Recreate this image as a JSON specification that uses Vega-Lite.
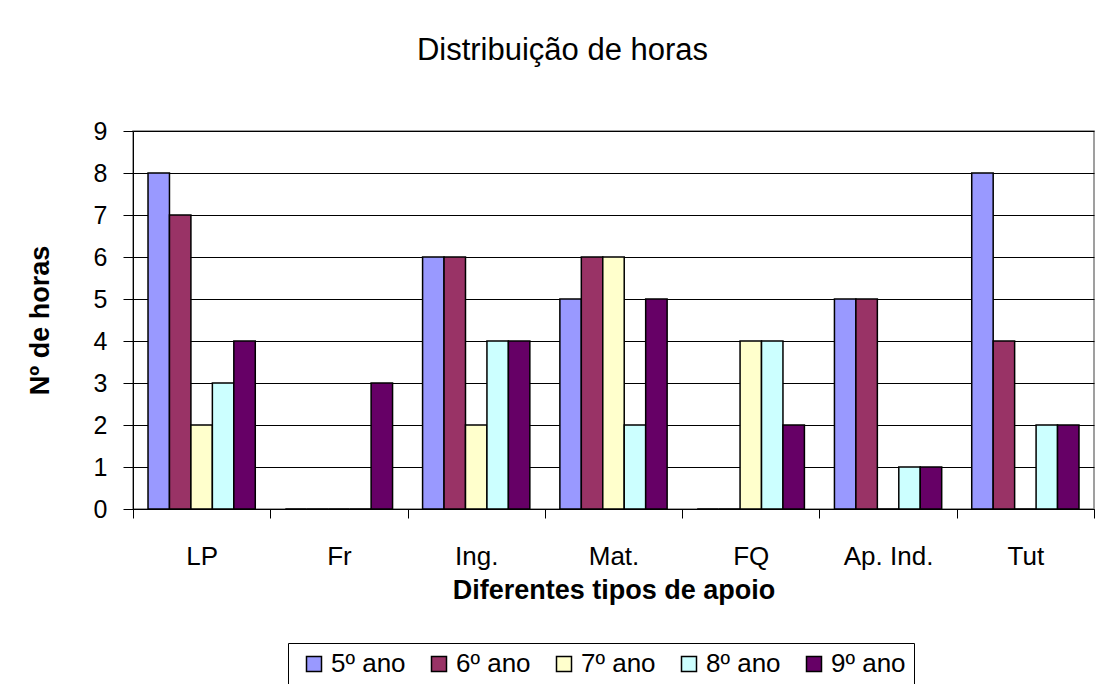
{
  "$schema": "https://vega.github.io/schema/vega-lite/v6.json",
  "width": 961,
  "height": 378,
  "autosize": {"type": "none"},
  "padding": {"left": 133, "top": 131, "right": 6, "bottom": 175},
  "background": "white",
  "title": {
    "text": "Distribuição de horas",
    "font": "Liberation Sans",
    "fontSize": 31,
    "fontWeight": "normal",
    "color": "black",
    "offset": 52,
    "dx": -51
  },
  "data": {
    "values": [
      {"tipo": "LP", "ano": "5º ano", "horas": 8},
      {"tipo": "LP", "ano": "6º ano", "horas": 7},
      {"tipo": "LP", "ano": "7º ano", "horas": 2},
      {"tipo": "LP", "ano": "8º ano", "horas": 3},
      {"tipo": "LP", "ano": "9º ano", "horas": 4},
      {"tipo": "Fr", "ano": "5º ano", "horas": 0},
      {"tipo": "Fr", "ano": "6º ano", "horas": 0},
      {"tipo": "Fr", "ano": "7º ano", "horas": 0},
      {"tipo": "Fr", "ano": "8º ano", "horas": 0},
      {"tipo": "Fr", "ano": "9º ano", "horas": 3},
      {"tipo": "Ing.", "ano": "5º ano", "horas": 6},
      {"tipo": "Ing.", "ano": "6º ano", "horas": 6},
      {"tipo": "Ing.", "ano": "7º ano", "horas": 2},
      {"tipo": "Ing.", "ano": "8º ano", "horas": 4},
      {"tipo": "Ing.", "ano": "9º ano", "horas": 4},
      {"tipo": "Mat.", "ano": "5º ano", "horas": 5},
      {"tipo": "Mat.", "ano": "6º ano", "horas": 6},
      {"tipo": "Mat.", "ano": "7º ano", "horas": 6},
      {"tipo": "Mat.", "ano": "8º ano", "horas": 2},
      {"tipo": "Mat.", "ano": "9º ano", "horas": 5},
      {"tipo": "FQ", "ano": "5º ano", "horas": 0},
      {"tipo": "FQ", "ano": "6º ano", "horas": 0},
      {"tipo": "FQ", "ano": "7º ano", "horas": 4},
      {"tipo": "FQ", "ano": "8º ano", "horas": 4},
      {"tipo": "FQ", "ano": "9º ano", "horas": 2},
      {"tipo": "Ap. Ind.", "ano": "5º ano", "horas": 5},
      {"tipo": "Ap. Ind.", "ano": "6º ano", "horas": 5},
      {"tipo": "Ap. Ind.", "ano": "7º ano", "horas": 0},
      {"tipo": "Ap. Ind.", "ano": "8º ano", "horas": 1},
      {"tipo": "Ap. Ind.", "ano": "9º ano", "horas": 1},
      {"tipo": "Tut", "ano": "5º ano", "horas": 8},
      {"tipo": "Tut", "ano": "6º ano", "horas": 4},
      {"tipo": "Tut", "ano": "7º ano", "horas": 0},
      {"tipo": "Tut", "ano": "8º ano", "horas": 2},
      {"tipo": "Tut", "ano": "9º ano", "horas": 2}
    ]
  },
  "mark": {"type": "bar", "stroke": "black", "strokeWidth": 1.5},
  "encoding": {
    "x": {
      "field": "tipo",
      "type": "nominal",
      "sort": ["LP", "Fr", "Ing.", "Mat.", "FQ", "Ap. Ind.", "Tut"],
      "scale": {"paddingInner": 0, "paddingOuter": 0},
      "axis": {
        "title": "Diferentes tipos de apoio",
        "titleFont": "Liberation Sans",
        "titleFontSize": 27,
        "titleFontWeight": "bold",
        "titleColor": "black",
        "titlePadding": 8,
        "labelFont": "Liberation Sans",
        "labelFontSize": 26,
        "labelColor": "black",
        "labelAngle": 0,
        "labelPadding": 25,
        "tickBand": "extent",
        "tickSize": 9,
        "tickColor": "black",
        "domainColor": "black",
        "grid": false
      }
    },
    "xOffset": {
      "field": "ano",
      "type": "nominal",
      "scale": {"paddingInner": 0, "paddingOuter": 0.7}
    },
    "y": {
      "field": "horas",
      "type": "quantitative",
      "scale": {"domain": [0, 9], "nice": false},
      "axis": {
        "title": "Nº de horas",
        "titleFont": "Liberation Sans",
        "titleFontSize": 27,
        "titleFontWeight": "bold",
        "titleColor": "black",
        "titlePadding": 39,
        "labelFont": "Liberation Sans",
        "labelFontSize": 25,
        "labelColor": "black",
        "labelPadding": 16,
        "values": [0, 1, 2, 3, 4, 5, 6, 7, 8, 9],
        "tickSize": 10,
        "tickColor": "black",
        "domainColor": "black",
        "grid": true,
        "gridColor": "black",
        "gridOpacity": 1
      }
    },
    "color": {
      "field": "ano",
      "type": "nominal",
      "scale": {
        "domain": ["5º ano", "6º ano", "7º ano", "8º ano", "9º ano"],
        "range": ["#9999FF", "#993366", "#FFFFCC", "#CCFFFF", "#660066"]
      },
      "legend": {
        "title": null,
        "orient": "none",
        "legendX": 155,
        "legendY": 512,
        "direction": "horizontal",
        "padding": 8,
        "strokeColor": "black",
        "fillColor": "white",
        "symbolType": "square",
        "symbolSize": 225,
        "symbolOffset": 5,
        "symbolStrokeColor": "black",
        "symbolStrokeWidth": 1.5,
        "symbolOpacity": 1,
        "labelFont": "Liberation Sans",
        "labelFontSize": 26,
        "labelColor": "black",
        "labelOffset": 4,
        "columnPadding": 15
      }
    }
  },
  "config": {
    "view": {"stroke": "#808080", "strokeWidth": 1.5}
  }
}
